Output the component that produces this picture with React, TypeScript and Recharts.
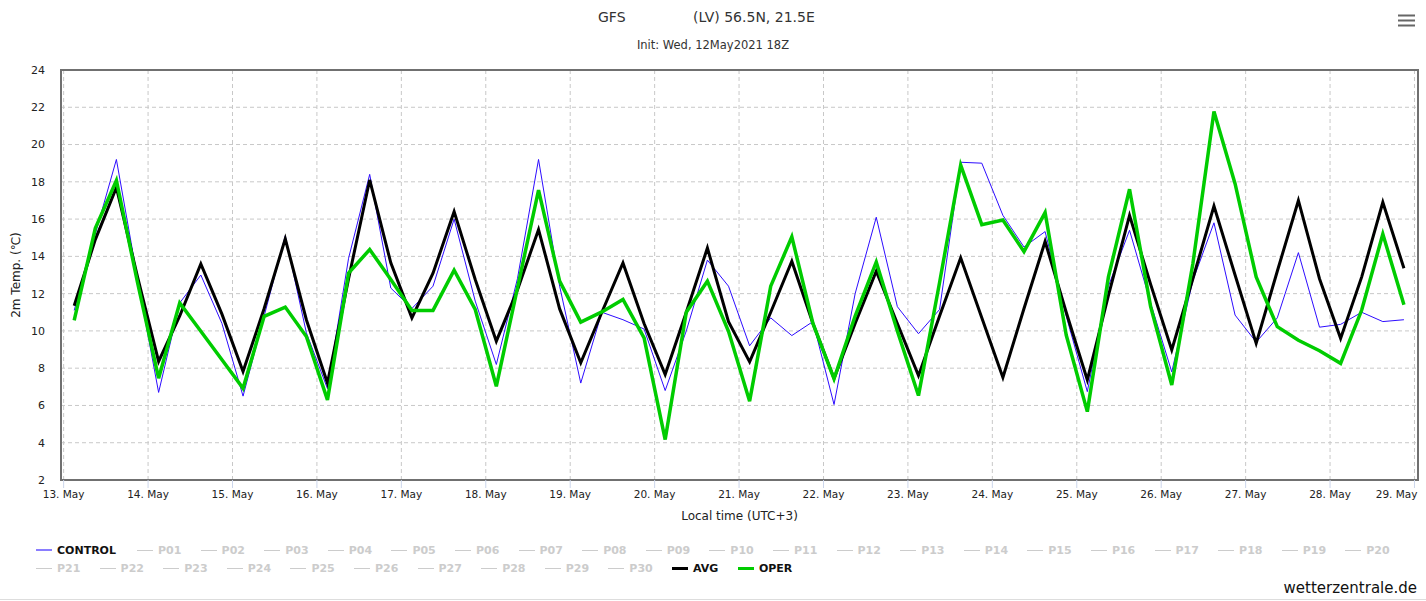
// GFS ensemble 2m temperature plume, Riga-ish point (56.5N 21.5E).
// Only CONTROL, AVG and OPER are visible; P01..P30 are toggled off in the legend.
import React from "react";
import {
  CartesianGrid, Label, Line, LineChart, ReferenceArea, XAxis, YAxis,
} from "recharts";

const FONT = "'DejaVu Sans', Verdana, sans-serif";

// forecast hours, local time (UTC+3), counted from 13 May 00:00
const HOURS = [
  3, 9, 15, 21, 27, 33, 39, 45, 51, 57, 63, 69, 75, 81, 87, 93,
  99, 105, 111, 117, 123, 129, 135, 141, 147, 153, 159, 165, 171, 177, 183, 189,
  195, 201, 207, 213, 219, 225, 231, 237, 243, 249, 255, 261, 267, 273, 279, 285,
  291, 297, 303, 309, 315, 321, 327, 333, 339, 345, 351, 357, 363, 369, 375, 381,
];

const CONTROL = [
  11.1, 15.2, 19.2, 12.8, 6.7, 11.5, 13.0, 10.4, 6.5, 10.8, 15.1, 9.9, 6.9, 13.9, 18.4, 12.3,
  11.2, 12.4, 16.0, 11.6, 8.2, 12.8, 19.2, 12.4, 7.2, 11.0, 10.6, 10.1, 6.8, 10.0, 13.8, 12.4,
  9.2, 10.7, 9.75, 10.5, 6.05, 12.0, 16.1, 11.3, 9.85, 11.15, 19.05, 19.0, 16.2, 14.5, 15.33, 10.8,
  6.74, 12.4, 15.4, 11.5, 7.8, 12.7, 15.8, 10.85, 9.4, 10.7, 14.2, 10.2, 10.35, 11.0, 10.5, 10.6,
];

const AVG = [
  11.35, 14.9, 17.7, 12.9, 8.36, 10.8, 13.6, 10.9, 7.82, 11.2, 14.94, 10.6, 7.2, 12.8, 18.1, 13.65,
  10.7, 13.1, 16.4, 12.76, 9.45, 12.2, 15.44, 11.18, 8.29, 11.0, 13.65, 10.4, 7.66, 11.0, 14.45, 10.5,
  8.34, 11.0, 13.74, 10.4, 7.45, 10.4, 13.2, 10.4, 7.6, 10.8, 13.92, 10.7, 7.5, 11.2, 14.8, 11.0,
  7.37, 11.9, 16.2, 12.5, 8.98, 12.8, 16.7, 13.0, 9.33, 13.2, 17.0, 12.8, 9.6, 12.9, 16.9, 13.36,
];

const OPER = [
  10.56, 15.5, 18.07, 12.6, 7.46, 11.5, 9.98, 8.45, 6.92, 10.78, 11.28, 9.7, 6.3, 13.1, 14.37, 12.76,
  11.1, 11.1, 13.26, 11.15, 7.03, 12.3, 17.55, 12.67, 10.47, 11.02, 11.69, 9.63, 4.17, 11.0, 12.67, 9.98,
  6.23, 12.4, 15.05, 10.4, 7.43, 10.8, 13.7, 10.0, 6.53, 12.6, 18.9, 15.7, 15.95, 14.25, 16.35, 9.78,
  5.67, 12.9, 17.6, 11.3, 7.1, 13.6, 21.77, 17.9, 12.9, 10.23, 9.5, 8.94, 8.26, 11.12, 15.2, 11.4,
];

const TICK_HOURS = [0, 24, 48, 72, 96, 120, 144, 168, 192, 216, 240, 264, 288, 312, 336, 360, 384];
const DAY_LABELS = [
  "13. May", "14. May", "15. May", "16. May", "17. May", "18. May", "19. May", "20. May", "21. May",
  "22. May", "23. May", "24. May", "25. May", "26. May", "27. May", "28. May", "29. May",
];
const Y_TICKS = [2, 4, 6, 8, 10, 12, 14, 16, 18, 20, 22, 24];
const X_DOMAIN = [-0.75, 385];

const MEMBERS = [
  "P01", "P02", "P03", "P04", "P05", "P06", "P07", "P08", "P09", "P10",
  "P11", "P12", "P13", "P14", "P15", "P16", "P17", "P18", "P19", "P20",
  "P21", "P22", "P23", "P24", "P25", "P26", "P27", "P28", "P29", "P30",
];

const BLUE = "#2d0cff";
const GREEN = "#00cc00";
const HIDDEN = "#cccccc";

const rows = HOURS.map((h, i) => ({ h, control: CONTROL[i], avg: AVG[i], oper: OPER[i] }));

function DayTick(props: any) {
  const { x, y, payload } = props;
  const idx = TICK_HOURS.indexOf(payload.value);
  const last = idx === TICK_HOURS.length - 1;
  return (
    <text
      x={last ? x + 3 : x} y={y} dy={8}
      textAnchor={last ? "end" : "middle"}
      fontSize={10.5} fontFamily={FONT} fill="#222"
    >
      {DAY_LABELS[idx]}
    </text>
  );
}

function LegendItem({ name, color, width, thick, on }: {
  name: string; color: string; width: number; thick: number; on: boolean;
}) {
  return (
    <div style={{ width, display: "flex", alignItems: "center", height: 18 }}>
      <div style={{ width: 16, height: thick, background: color, marginRight: 5 }} />
      <span style={{ fontWeight: "bold", fontSize: 11, color: on ? "#111" : HIDDEN }}>{name}</span>
    </div>
  );
}

export default function App() {
  return (
    <div style={{ position: "absolute", left: 0, top: 0, width: 1426, height: 601, background: "#fff", fontFamily: FONT }}>
      <svg width={1426} height={601} style={{ position: "absolute", left: 0, top: 0, pointerEvents: "none" }}>
        <text x={598} y={22} fontSize={14} fill="#333">GFS</text>
        <text x={693} y={22} fontSize={14} fill="#333">(LV) 56.5N, 21.5E</text>
        <text x={713} y={49} fontSize={11.5} fill="#333" textAnchor="middle">Init: Wed, 12May2021 18Z</text>
        <text x={1417} y={593} fontSize={15} fill="#111" textAnchor="end">wetterzentrale.de</text>
        <rect x={1398} y={14.5} width={17} height={2} fill="#666" />
        <rect x={1398} y={19.5} width={17} height={2} fill="#666" />
        <rect x={1398} y={24.5} width={17} height={2} fill="#666" />
        <line x1={0} y1={599.5} x2={1426} y2={599.5} stroke="#dddddd" />
      </svg>

      <div style={{ position: "absolute", left: 0, top: 0 }}>
        <LineChart width={1426} height={540} data={rows} margin={{ top: 70, right: 8, bottom: 16, left: 21 }}>
          <CartesianGrid stroke="#c8c8c8" strokeDasharray="4 3" />
          <XAxis
            dataKey="h" type="number" domain={X_DOMAIN} ticks={TICK_HOURS} interval={0}
            axisLine={false} tickLine={{ stroke: "#ccd6eb" }} tickSize={8} tickMargin={2}
            tick={<DayTick />} height={44}
          >
            <Label value="Local time (UTC+3)" position="insideBottom" offset={4}
              fontSize={12} fontFamily={FONT} fill="#222" />
          </XAxis>
          <YAxis
            type="number" domain={[2, 24]} ticks={Y_TICKS} interval={0} width={40}
            axisLine={false} tickLine={false} tickSize={6} tickMargin={10}
            tick={{ fontSize: 11, fontFamily: FONT, fill: "#222" }}
          >
            <Label value="2m Temp. (℃)" angle={-90} position="insideLeft" offset={-5}
              style={{ textAnchor: "middle" }} fontSize={12} fontFamily={FONT} fill="#222" />
          </YAxis>
          <ReferenceArea x1={X_DOMAIN[0]} x2={X_DOMAIN[1]} y1={2} y2={24}
            fill="none" stroke="#707070" strokeWidth={2} />
          <Line dataKey="control" type="linear" stroke={BLUE} strokeWidth={1} dot={false} isAnimationActive={false} />
          <Line dataKey="avg" type="linear" stroke="#000" strokeWidth={3} dot={false} isAnimationActive={false} />
          <Line dataKey="oper" type="linear" stroke={GREEN} strokeWidth={3.5} dot={false} isAnimationActive={false} />
        </LineChart>
      </div>

      <div style={{ position: "absolute", left: 36, top: 541, width: 1380, display: "flex", flexWrap: "wrap" }}>
        <LegendItem name="CONTROL" color="#8a7dff" width={101} thick={2} on />
        {MEMBERS.map((m) => (
          <LegendItem key={m} name={m} color={HIDDEN} width={63.6} thick={1} on={false} />
        ))}
        <LegendItem name="AVG" color="#000" width={66} thick={3} on />
        <LegendItem name="OPER" color={GREEN} width={66} thick={3} on />
      </div>
    </div>
  );
}
